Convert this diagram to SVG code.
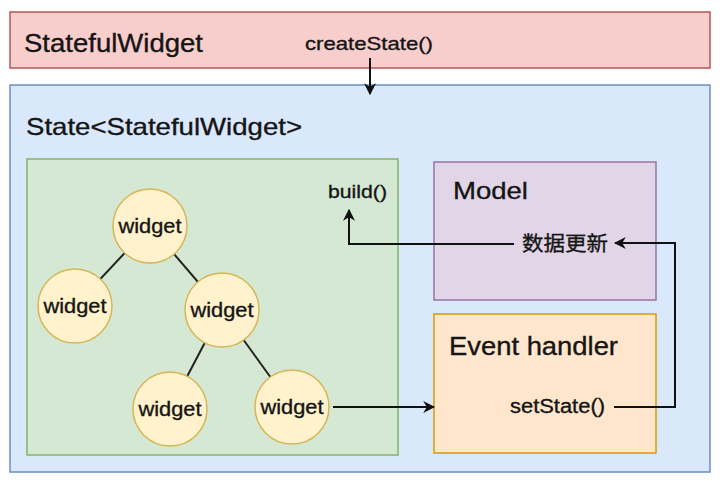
<svg xmlns="http://www.w3.org/2000/svg" width="720" height="481" viewBox="0 0 720 481">
<defs>
<style>
text{font-family:"Liberation Sans",Arial,"Noto Sans CJK SC",sans-serif;fill:#151515;stroke:#151515;stroke-width:0.35}
.w{fill:#fff2cc;stroke:#d6b656;stroke-width:1.5}
.wt{font-size:20px;text-anchor:middle}
.e{fill:none;stroke:#222;stroke-width:2}
.c{fill:none;stroke:#111;stroke-width:2}
</style>
<marker id="ah" viewBox="0 0 10 10" refX="9" refY="5" markerWidth="6" markerHeight="6" orient="auto-start-reverse" markerUnits="strokeWidth">
<path d="M0,0 L10,5 L0,10 L3,5 z" fill="#111"/>
</marker>
</defs>
<rect width="720" height="481" fill="#fff"/>
<g id="statefulwidget">
<rect x="10" y="12" width="700" height="56" fill="#f8cecc" stroke="#b85450" stroke-width="1.5"/>
<text x="24" y="52" font-size="25" textLength="179" lengthAdjust="spacingAndGlyphs">StatefulWidget</text>
<text x="305" y="50" font-size="19" textLength="128" lengthAdjust="spacingAndGlyphs">createState()</text>
</g>
<g id="state">
<rect x="10" y="85" width="700" height="387" fill="#dae8fc" stroke="#6c8ebf" stroke-width="1.5"/>
<text x="26" y="135" font-size="24" textLength="276" lengthAdjust="spacingAndGlyphs">State&lt;StatefulWidget&gt;</text>
</g>
<g id="build-area">
<rect x="27" y="159" width="371" height="296" fill="#d5e8d4" stroke="#82b366" stroke-width="1.5"/>
<text x="328" y="198" font-size="19" textLength="59" lengthAdjust="spacingAndGlyphs">build()</text>
</g>
<g id="model">
<rect x="434" y="162" width="222" height="138" fill="#e1d5e7" stroke="#9673a6" stroke-width="1.5"/>
<text x="453" y="199" font-size="24" textLength="75" lengthAdjust="spacingAndGlyphs">Model</text>
<text x="522" y="251" font-size="20" textLength="86" lengthAdjust="spacingAndGlyphs">数据更新</text>
</g>
<g id="event-handler">
<rect x="434" y="314" width="222" height="139" fill="#ffe6cc" stroke="#d79b00" stroke-width="1.5"/>
<text x="449" y="355" font-size="25" textLength="169" lengthAdjust="spacingAndGlyphs">Event handler</text>
<text x="510" y="413" font-size="20" textLength="95" lengthAdjust="spacingAndGlyphs">setState()</text>
</g>
<g id="connectors">
<line class="e" x1="150" y1="226" x2="75" y2="306"/>
<line class="e" x1="150" y1="226" x2="222" y2="310"/>
<line class="e" x1="222" y1="310" x2="170" y2="409"/>
<line class="e" x1="222" y1="310" x2="292" y2="407"/>
<line class="c" x1="370" y1="58" x2="370" y2="94" marker-end="url(#ah)"/>
<line class="c" x1="333" y1="407" x2="434" y2="407" marker-end="url(#ah)"/>
<polyline class="c" points="614,407 675,407 675,243 615,243" marker-end="url(#ah)"/>
<polyline class="c" points="514,244 349,244 349,210" marker-end="url(#ah)"/>
</g>
<g id="w1"><circle class="w" cx="150" cy="226" r="37"/><text class="wt" x="150" y="233" textLength="63" lengthAdjust="spacingAndGlyphs">widget</text></g>
<g id="w2"><circle class="w" cx="75" cy="306" r="37"/><text class="wt" x="75" y="313" textLength="63" lengthAdjust="spacingAndGlyphs">widget</text></g>
<g id="w3"><circle class="w" cx="222" cy="310" r="37"/><text class="wt" x="222" y="317" textLength="63" lengthAdjust="spacingAndGlyphs">widget</text></g>
<g id="w4"><circle class="w" cx="170" cy="409" r="37"/><text class="wt" x="170" y="416" textLength="63" lengthAdjust="spacingAndGlyphs">widget</text></g>
<g id="w5"><circle class="w" cx="292" cy="407" r="37"/><text class="wt" x="292" y="414" textLength="63" lengthAdjust="spacingAndGlyphs">widget</text></g>
</svg>
